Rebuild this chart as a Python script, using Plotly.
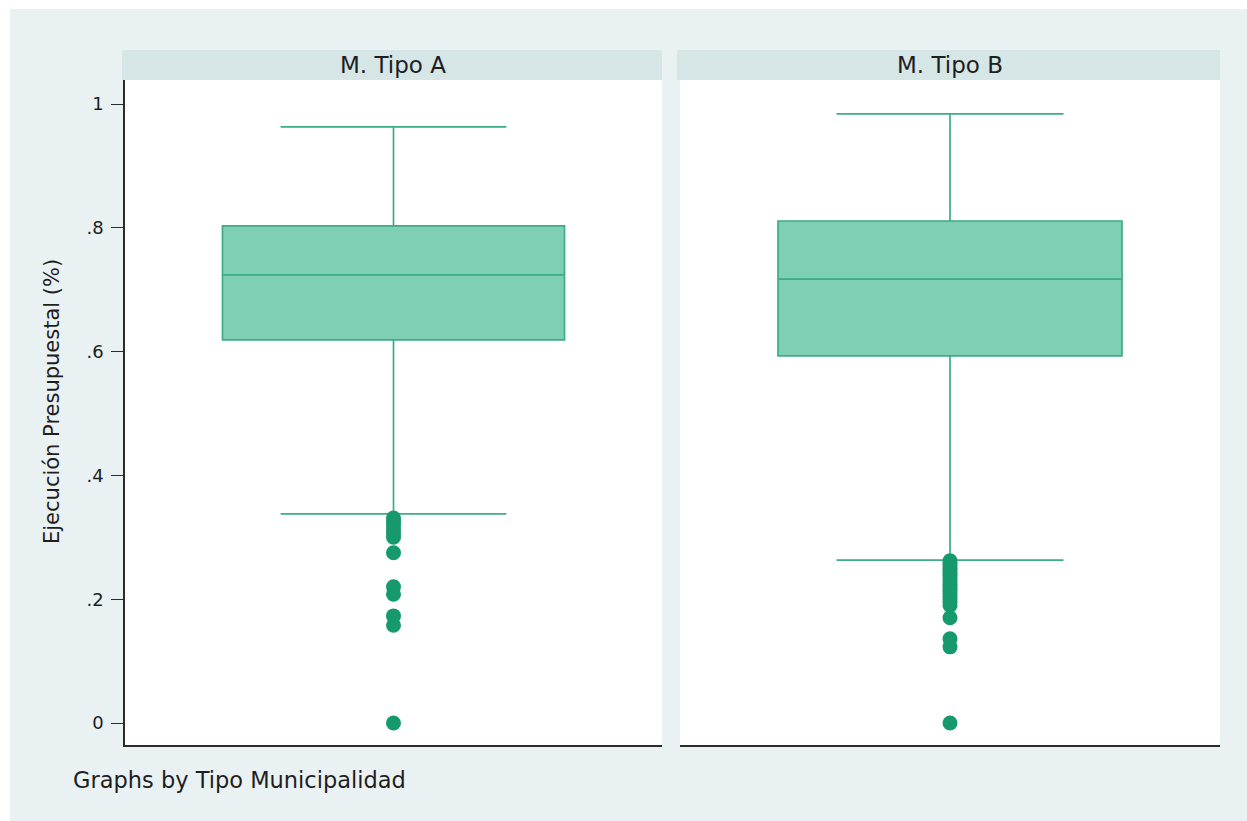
import plotly.graph_objects as go

W, H = 1247, 821

# Panel titles
panels = ["M. Tipo A", "M. Tipo B"]

# Box summaries per panel
q1 = [0.619, 0.593]
medians = [0.724, 0.717]
q3 = [0.803, 0.811]
lower_whisker = [0.338, 0.263]
upper_whisker = [0.963, 0.984]

# Outside values per panel
outliers_a = [0.331, 0.326, 0.320, 0.313, 0.306, 0.300, 0.275, 0.220, 0.208, 0.173, 0.158, 0.0]
outliers_b = [0.262, 0.258, 0.254, 0.250, 0.246, 0.242, 0.238, 0.233, 0.228, 0.224,
              0.219, 0.214, 0.209, 0.204, 0.199, 0.195, 0.190, 0.170, 0.136, 0.123, 0.0]
outliers = [outliers_a, outliers_b]

y_ticks = [0, 0.2, 0.4, 0.6, 0.8, 1]
y_tick_text = ["0", ".2", ".4", ".6", ".8", "1"]

BOX_FILL = "#7fcfb4"
BOX_LINE = "#3dac88"
DOT = "#169a6d"
OUTER_BG = "#e9f1f3"
STRIP_BG = "#d6e5e5"
AXIS = "#2b2b2b"
FONT = "DejaVu Sans"


def xp(px):
    return px / W


def yp(py):
    return 1 - py / H


# panel pixel extents (left, right)
panel_x = [(125, 662), (680, 1220)]
plot_top, plot_bottom = 80, 745
strip_top = 50
zero_px, one_px = 723, 104
unit = zero_px - one_px
y_range = [(zero_px - plot_bottom) / unit, (zero_px - plot_top) / unit]

fig = go.Figure()

for i in range(2):
    xa = "x" if i == 0 else "x2"
    ya = "y" if i == 0 else "y2"
    fig.add_trace(go.Box(
        x=[0], q1=[q1[i]], median=[medians[i]], q3=[q3[i]],
        lowerfence=[lower_whisker[i]], upperfence=[upper_whisker[i]],
        width=0.637, whiskerwidth=0.66,
        fillcolor=BOX_FILL, line=dict(color=BOX_LINE, width=1.7),
        boxpoints=False, xaxis=xa, yaxis=ya, showlegend=False,
        hoverinfo="skip",
    ))
    fig.add_trace(go.Scatter(
        x=[0] * len(outliers[i]), y=outliers[i], mode="markers",
        marker=dict(color=DOT, size=15, line=dict(width=0)),
        xaxis=xa, yaxis=ya, showlegend=False, hoverinfo="skip",
    ))

shapes = [
    dict(type="rect", xref="paper", yref="paper", x0=xp(10), x1=1, y0=0, y1=yp(9),
         fillcolor=OUTER_BG, line=dict(width=0), layer="below"),
]
for (l, r) in panel_x:
    shapes.append(dict(type="rect", xref="paper", yref="paper",
                       x0=xp(l - 3), x1=xp(r), y0=yp(plot_top), y1=yp(strip_top),
                       fillcolor=STRIP_BG, line=dict(width=0), layer="below"))
    shapes.append(dict(type="rect", xref="paper", yref="paper",
                       x0=xp(l), x1=xp(r), y0=yp(plot_bottom), y1=yp(plot_top),
                       fillcolor="white", line=dict(width=0), layer="below"))

annotations = []
for i, (l, r) in enumerate(panel_x):
    annotations.append(dict(text=panels[i], xref="paper", yref="paper",
                            x=xp((l + r) / 2), y=yp(65), showarrow=False,
                            xanchor="center", yanchor="middle",
                            font=dict(family=FONT, size=23, color="#1e1e1e")))
annotations.append(dict(text="Ejecución Presupuestal (%)", xref="paper", yref="paper",
                        x=xp(52), y=yp(402), textangle=-90, showarrow=False,
                        xanchor="center", yanchor="middle",
                        font=dict(family=FONT, size=21, color="#1e1e1e")))
annotations.append(dict(text="Graphs by Tipo Municipalidad", xref="paper", yref="paper",
                        x=xp(71), y=yp(780), showarrow=False,
                        xanchor="left", yanchor="middle",
                        font=dict(family=FONT, size=22.5, color="#1e1e1e")))

x_common = dict(range=[-0.5, 0.5], showgrid=False, zeroline=False, showticklabels=False,
                ticks="", showline=True, linecolor=AXIS, linewidth=1.5, fixedrange=True)
y_common = dict(range=y_range, showgrid=False, zeroline=False,
                domain=[yp(plot_bottom), yp(plot_top)], fixedrange=True)

fig.update_layout(
    width=W, height=H,
    margin=dict(l=0, r=0, t=0, b=0),
    paper_bgcolor="white",
    plot_bgcolor="rgba(0,0,0,0)",
    xaxis=dict(domain=[xp(panel_x[0][0]), xp(panel_x[0][1])], anchor="y", **x_common),
    xaxis2=dict(domain=[xp(panel_x[1][0]), xp(panel_x[1][1])], anchor="y2", **x_common),
    yaxis=dict(anchor="x", tickvals=y_ticks, ticktext=y_tick_text, ticks="outside",
               ticklen=12, tickwidth=1.3, tickcolor=AXIS, showline=True, linecolor=AXIS,
               linewidth=1.5, tickfont=dict(family=FONT, size=18, color="#1e1e1e"),
               ticklabelstandoff=4, **y_common),
    yaxis2=dict(anchor="x2", matches="y", showticklabels=False, ticks="", showline=False,
                **y_common),
    shapes=shapes,
    annotations=annotations,
    font=dict(family=FONT),
)

fig.write_html("out.html", config={"displayModeBar": False})
